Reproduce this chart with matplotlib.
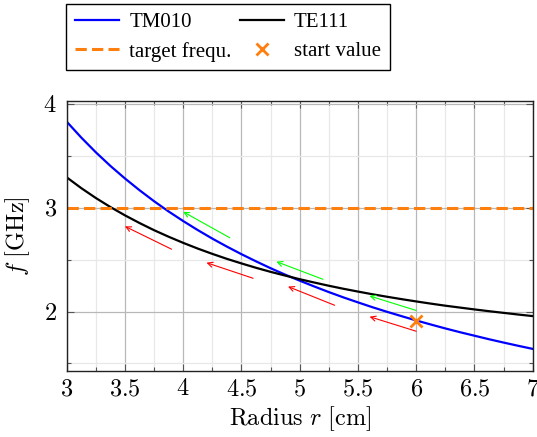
import matplotlib
matplotlib.use("Agg")
import matplotlib.pyplot as plt
from matplotlib.ticker import MultipleLocator, FuncFormatter

# --- datos ---
radius = [3.0, 3.125, 3.25, 3.375, 3.5, 3.625, 3.75, 3.875, 4.0,
          4.125, 4.25, 4.375, 4.5, 4.625, 4.75, 4.875, 5.0,
          5.125, 5.25, 5.375, 5.5, 5.625, 5.75, 5.875, 6.0,
          6.125, 6.25, 6.375, 6.5, 6.625, 6.75, 6.875, 7.0]
f_tm010 = [3.828, 3.675, 3.533, 3.402, 3.281, 3.168, 3.062, 2.963, 2.871,
           2.784, 2.702, 2.625, 2.552, 2.483, 2.417, 2.355, 2.297,
           2.241, 2.187, 2.136, 2.088, 2.041, 1.997, 1.955, 1.914,
           1.875, 1.837, 1.801, 1.767, 1.733, 1.701, 1.670, 1.640]
f_te111 = [3.292, 3.188, 3.093, 3.006, 2.926, 2.852, 2.783, 2.720, 2.661,
           2.606, 2.555, 2.507, 2.463, 2.421, 2.382, 2.346, 2.311,
           2.279, 2.248, 2.219, 2.192, 2.166, 2.142, 2.119, 2.097,
           2.076, 2.056, 2.038, 2.020, 2.003, 1.987, 1.971, 1.956]
target_f = 3.0
start_r, start_f = 6.0, 1.91

# flechas (inicio -> fin)
green_arrows = [((4.4, 2.71), (4.0, 2.96)),
                ((5.2, 2.31), (4.8, 2.48)),
                ((6.0, 2.01), (5.6, 2.15))]
red_arrows = [((3.9, 2.60), (3.5, 2.82)),
              ((4.6, 2.32), (4.2, 2.47)),
              ((5.3, 2.06), (4.9, 2.24)),
              ((6.0, 1.81), (5.6, 1.95))]

plt.rcParams['mathtext.fontset'] = 'cm'
plt.rcParams['font.family'] = ['Liberation Serif', 'DejaVu Serif']

fig = plt.figure(figsize=(5.37, 4.37), dpi=100)
ax = fig.add_axes([0.1242, 0.1517, 0.8678, 0.6179])

ax.set_xlim(3, 7)
ax.set_ylim(1.43, 4.03)

ax.xaxis.set_major_locator(MultipleLocator(0.5))
ax.xaxis.set_minor_locator(MultipleLocator(0.25))
ax.yaxis.set_major_locator(MultipleLocator(1))
ax.yaxis.set_minor_locator(MultipleLocator(0.5))
fmt = FuncFormatter(lambda v, p: f"${v:g}$")
ax.xaxis.set_major_formatter(fmt)
ax.yaxis.set_major_formatter(fmt)

ax.grid(True, which='major', color='#b8b8b8', lw=0.9)
ax.grid(True, which='minor', color='#e8e8e8', lw=0.9)
ax.set_axisbelow(True)

ax.tick_params(which='both', direction='in', top=True, right=True,
               color='#555555', labelsize=17.5)
ax.tick_params(axis='x', which='major', pad=6)
ax.tick_params(axis='y', which='major', pad=7)
ax.tick_params(which='major', length=5, width=0.8)
ax.tick_params(which='minor', length=3, width=0.8)
for s in ax.spines.values():
    s.set_linewidth(1.0)
    s.set_color('#222222')

h_tm, = ax.plot(radius, f_tm010, color='blue', lw=1.6, label='TM010')
h_te, = ax.plot(radius, f_te111, color='black', lw=1.6, label='TE111')
h_tg = ax.axhline(target_f, color='#ff7f0e', lw=2.2, ls=(0, (3.7, 1.7)),
                  label='target frequ.')
h_st, = ax.plot([start_r], [start_f], ls='none', marker='x', ms=9, mew=2,
                color='#ff7f0e', label='start value')

for (x0, y0), (x1, y1) in green_arrows:
    ax.annotate('', xy=(x1, y1), xytext=(x0, y0),
                arrowprops=dict(arrowstyle='->', color='#00ff00', lw=0.8,
                                shrinkA=0, shrinkB=0, mutation_scale=9))
for (x0, y0), (x1, y1) in red_arrows:
    ax.annotate('', xy=(x1, y1), xytext=(x0, y0),
                arrowprops=dict(arrowstyle='->', color='#ff0000', lw=0.8,
                                shrinkA=0, shrinkB=0, mutation_scale=9))

ax.set_xlabel(r"$\mathrm{Radius}\ r\ [\mathrm{cm}]$", fontsize=17.5, labelpad=3)
ax.set_ylabel(r"$f\ [\mathrm{GHz}]$", fontsize=17.5, labelpad=8)

# orden por filas: TM010, TE111 / target, start
leg = ax.legend([h_tm, h_tg, h_te, h_st],
                ['TM010', 'target frequ.', 'TE111', 'start value'],
                loc='lower left', bbox_to_anchor=(-0.001, 1.112), ncol=2,
                fontsize=15, frameon=True, fancybox=False, framealpha=1,
                edgecolor='black', handlelength=2.1, handletextpad=0.5,
                columnspacing=0.4, borderaxespad=0, borderpad=0.42,
                labelspacing=0.45)
leg.get_frame().set_linewidth(1.0)

fig.savefig("out.png", dpi=100)
